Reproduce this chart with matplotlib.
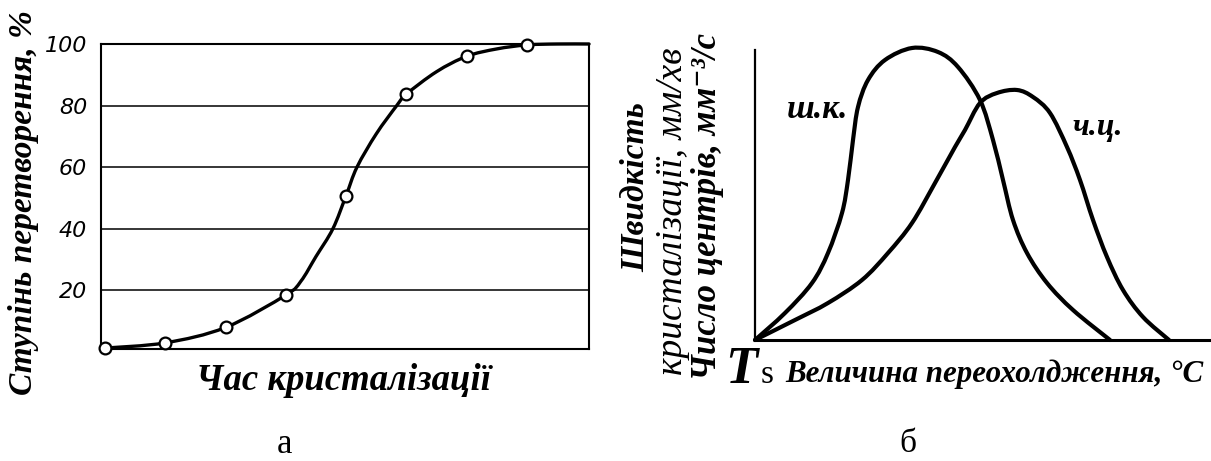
import matplotlib.pyplot as plt
from matplotlib.path import Path
from matplotlib.patches import PathPatch

plt.rcParams["font.family"] = ["Liberation Serif", "DejaVu Serif"]

# panel a: degree of transformation vs crystallisation time
time_idx = [0, 1, 2, 3, 4, 5, 6, 7]
conversion = [1.3, 3, 8, 18.5, 50.8, 83.7, 96, 99.7]
curve_t = [0, 1, 2, 3, 3.25, 3.5, 3.78, 4.0, 4.18, 4.5, 4.84, 5.0, 5.5, 6.0, 6.5, 7.0, 7.5, 8.03]
curve_y = [1.3, 3, 8, 18.5, 23, 31, 40, 50.8, 60, 70.8, 80, 83.7, 91, 96, 98.4, 99.7, 100, 100]
y_ticks = [20, 40, 60, 80, 100]

# panel b: growth rate (ш.к.) and nucleation rate (ч.ц.) vs undercooling
gk_x = [0, 30, 57, 73, 87, 93, 98, 103, 113, 130, 157, 183, 203, 225, 238, 248, 258, 272, 292, 318, 355]
gk_y = [0, 27, 57, 87, 127, 160, 200, 233, 260, 280, 292, 288, 273, 240, 200, 160, 120, 87, 57, 30, 0]
nc_x = [0, 40, 73, 107, 133, 157, 180, 200, 210, 225, 242, 262, 278, 295, 312, 325, 338, 352, 368, 388, 414]
nc_y = [0, 20, 37, 60, 87, 117, 157, 193, 210, 237, 247, 250, 243, 227, 193, 160, 120, 83, 50, 23, 0]

W, H = 1211, 461
fig = plt.figure(figsize=(W / 100, H / 100), dpi=100)


def rect(x0, y0, x1, y1):
    return [x0 / W, 1 - y1 / H, (x1 - x0) / W, (y1 - y0) / H]


def px(x, y):
    return x / W, 1 - y / H


def smooth_line(ax, xs, ys, lw):
    # catmull-rom through the read points, drawn as cubic bezier segments
    pts = list(zip(xs, ys))
    ext = [pts[0]] + pts + [pts[-1]]
    verts = [pts[0]]
    codes = [Path.MOVETO]
    for i in range(1, len(ext) - 2):
        p0, p1, p2, p3 = ext[i - 1], ext[i], ext[i + 1], ext[i + 2]
        c1 = (p1[0] + (p2[0] - p0[0]) / 6, p1[1] + (p2[1] - p0[1]) / 6)
        c2 = (p2[0] - (p3[0] - p1[0]) / 6, p2[1] - (p3[1] - p1[1]) / 6)
        verts += [c1, c2, p2]
        codes += [Path.CURVE4] * 3
    ax.add_patch(PathPatch(Path(verts, codes), fill=False, lw=lw, ec="black",
                           capstyle="round", joinstyle="round", clip_on=False))


# --- a ---
ax1 = fig.add_axes(rect(101, 44, 589, 349))
ax1.set_xlim(-0.066, 8.03)
ax1.set_ylim(1, 100)
for v in y_ticks[:-1]:
    ax1.axhline(v, color="black", lw=1.1)
smooth_line(ax1, curve_t, curve_y, 2.4)
ax1.plot(time_idx, conversion, "o", ms=8.5, mfc="white", mec="black", mew=1.6, clip_on=False, zorder=5)
for s in ax1.spines.values():
    s.set_linewidth(1.5)
ax1.set_xticks([])
ax1.set_yticks(y_ticks)
ax1.set_yticklabels([str(v) for v in y_ticks], family=["DejaVu Sans"], style="italic", fontsize=16)
ax1.tick_params(axis="y", length=0, pad=10)

fig.text(*px(24, 203), "Ступінь перетворення, %", rotation=90, ha="center", va="center",
         fontsize=24, weight="bold", style="italic")
fig.text(*px(344, 380), "Час кристалізації", ha="center", va="center",
         fontsize=26.5, weight="bold", style="italic")
fig.text(*px(285, 453), "а", ha="center", va="baseline", fontsize=25)

# --- b ---
ax2 = fig.add_axes(rect(755, 40, 1211, 340))
ax2.set_xlim(0, 456)
ax2.set_ylim(0, 300)
smooth_line(ax2, gk_x, gk_y, 3)
smooth_line(ax2, nc_x, nc_y, 3)
ax2.spines["top"].set_visible(False)
ax2.spines["right"].set_visible(False)
ax2.spines["left"].set_bounds(0, 290)
ax2.spines["left"].set_linewidth(1.6)
ax2.spines["bottom"].set_linewidth(2.2)
ax2.set_xticks([])
ax2.set_yticks([])
ax2.patch.set_alpha(0)

ax2.text(62, 230, "ш.к.", ha="center", va="center", fontsize=24, weight="bold", style="italic")
ax2.text(343, 212, "ч.ц.", ha="center", va="center", fontsize=23, weight="bold", style="italic")

fig.text(*px(636, 187), "Швидкість", rotation=90, ha="center", va="center",
         fontsize=24, weight="bold", style="italic")
fig.text(*px(673, 211), "кристалізації, мм/хв", rotation=90, ha="center", va="center",
         fontsize=27, style="italic")
fig.text(*px(708, 207), "Число центрів, мм⁻³/с", rotation=90, ha="center", va="center",
         fontsize=25, weight="bold", style="italic")

fig.text(*px(725, 383), "T", ha="left", va="baseline", fontsize=38, weight="bold", style="italic")
fig.text(*px(761, 383), "s", ha="left", va="baseline", fontsize=24)
fig.text(*px(785, 382), "Величина переохолдження, °С", ha="left", va="baseline",
         fontsize=22.3, weight="bold", style="italic")
fig.text(*px(908, 452), "б", ha="center", va="baseline", fontsize=24)

fig.savefig("out.png", dpi=100)
